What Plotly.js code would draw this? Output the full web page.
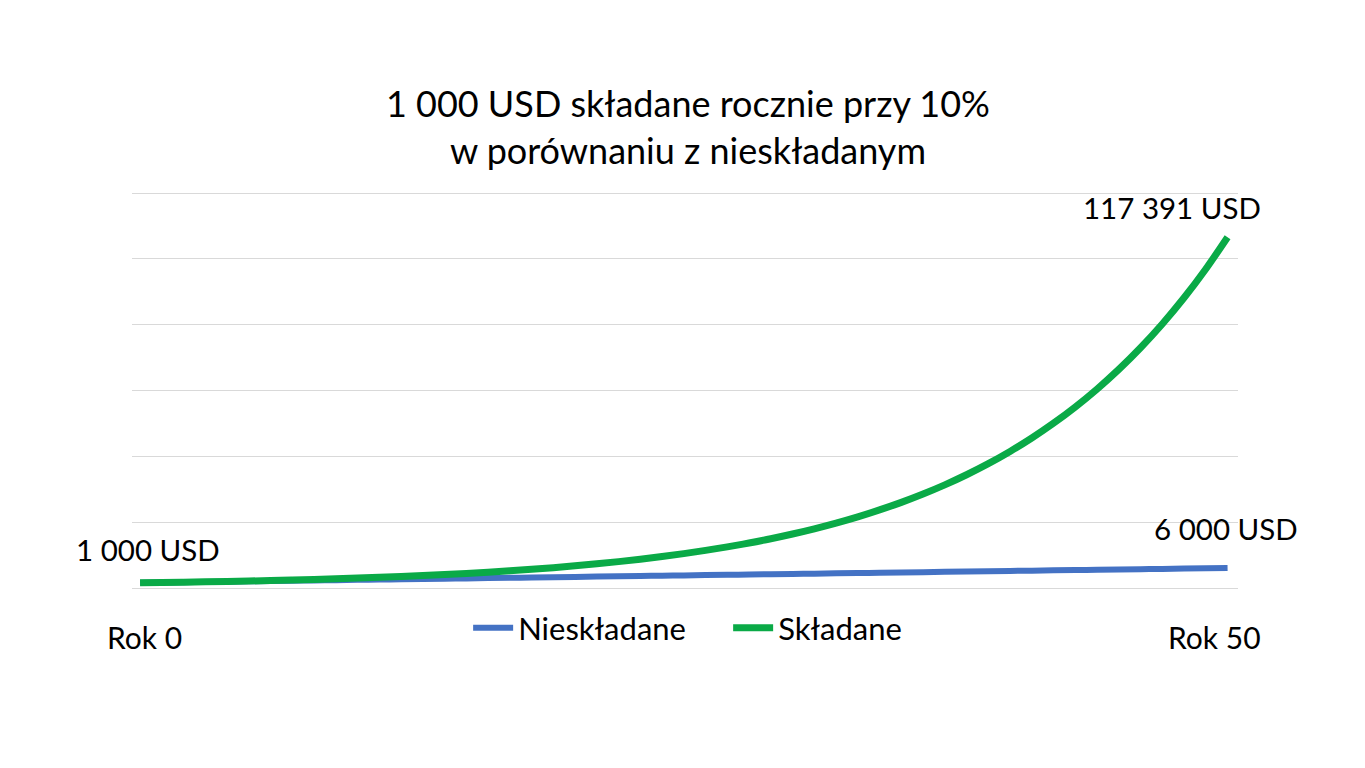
<!DOCTYPE html>
<html>
<head>
<meta charset="utf-8">
<script src="https://cdn.plot.ly/plotly-3.0.1.min.js"></script>
<style>
  html, body { margin: 0; padding: 0; background: #fff; }
  #chart { width: 1365px; height: 768px; }
</style>
</head>
<body>
<div id="chart"></div>
<script>
// years 0..50
var years = [0,1,2,3,4,5,6,7,8,9,10,11,12,13,14,15,16,17,18,19,20,
  21,22,23,24,25,26,27,28,29,30,31,32,33,34,35,36,37,38,39,40,
  41,42,43,44,45,46,47,48,49,50];

// simple interest (USD)
var simple = [1000,1100,1200,1300,1400,1500,1600,1700,1800,1900,2000,
  2100,2200,2300,2400,2500,2600,2700,2800,2900,3000,
  3100,3200,3300,3400,3500,3600,3700,3800,3900,4000,
  4100,4200,4300,4400,4500,4600,4700,4800,4900,5000,
  5100,5200,5300,5400,5500,5600,5700,5800,5900,6000];

// compounded yearly at 10% (USD)
var compound = [1000,1100,1210,1331,1464,1611,1772,1949,2144,2358,2594,
  2853,3138,3452,3797,4177,4595,5054,5560,6116,6727,
  7400,8140,8954,9850,10835,11918,13110,14421,15863,17449,
  19194,21114,23225,25548,28102,30913,34004,37404,41145,45259,
  49785,54764,60240,66264,72890,80180,88197,97017,106719,117391];

var tickText = ['Rok 0', 'Rok 50'];
var endLabels = ['1 000 USD', '117 391 USD', '6 000 USD'];

var font = 'Lato, "Open Sans", sans-serif';

var data = [
  {
    x: years, y: simple, name: 'Nieskładane', type: 'scatter', mode: 'lines',
    line: {color: '#4472C4', width: 6, shape: 'spline'}
  },
  {
    x: years, y: compound, name: 'Składane', type: 'scatter', mode: 'lines',
    line: {color: '#0AAA47', width: 7, shape: 'spline'}
  }
];

function label(text, x, y, size) {
  return {text: text, xref: 'paper', yref: 'paper', x: x, y: y,
    showarrow: false, xanchor: 'center', yanchor: 'middle',
    font: {size: size, family: font, color: '#000'}};
}

// plot area spans y 192..592 (400 px)
function py(pix) { return (592 - pix) / 400; }

var layout = {
  width: 1365, height: 768,
  paper_bgcolor: '#fff', plot_bgcolor: '#fff',
  margin: {l: 132, r: 127, t: 192, b: 176},
  font: {family: font, color: '#000'},
  title: {
    text: '1 000 USD składane rocznie przy 10%<br>w porównaniu z nieskładanym',
    font: {size: 36, family: font, color: '#000'},
    x: 0.504, xanchor: 'center', y: 0.848, yanchor: 'middle'
  },
  xaxis: {
    range: [-0.37, 50.48],
    showticklabels: false, showgrid: false, zeroline: false, showline: false,
    ticks: ''
  },
  yaxis: {
    range: [-2088, 132630],
    tick0: -740, dtick: 22170,
    showticklabels: false, zeroline: false, showline: false,
    gridcolor: '#d9d9d9', gridwidth: 1
  },
  legend: {
    orientation: 'h', x: 0.539, xanchor: 'center', y: py(628), yanchor: 'middle',
    font: {size: 31, family: font, color: '#000'},
    itemwidth: 40, tracegroupgap: 0, entrywidth: 205
  },
  showlegend: true,
  annotations: [
    label(endLabels[0], 0.0145, py(549), 29.5),
    label(endLabels[1], 0.940, py(207), 29.5),
    label(endLabels[2], 0.989, py(528), 29.5),
    label(tickText[0], 0.01175, py(637), 30),
    label(tickText[1], 0.979, py(637), 30)
  ]
};

Plotly.newPlot('chart', data, layout, {displayModeBar: false, staticPlot: true});
</script>
</body>
</html>
